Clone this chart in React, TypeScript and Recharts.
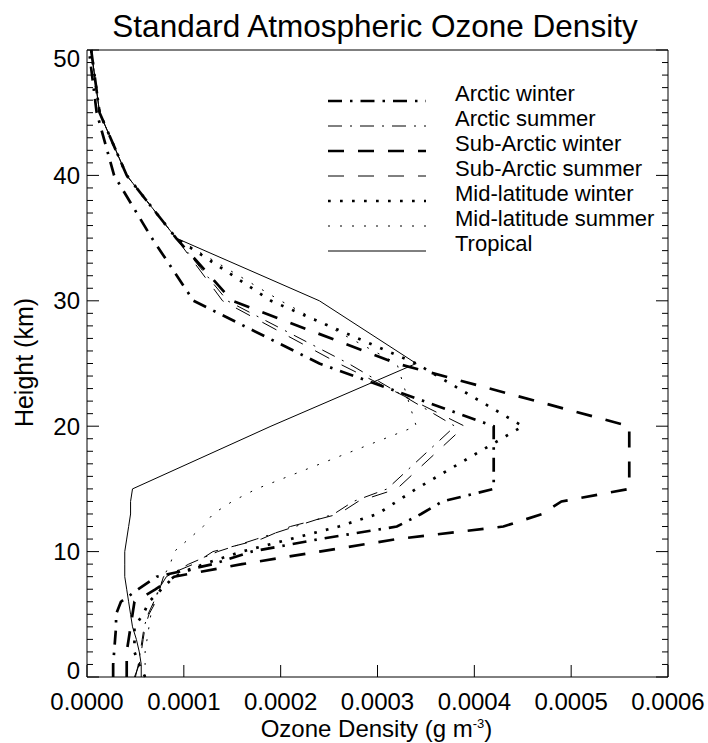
import { LineChart, Line, XAxis, YAxis, Legend } from "recharts"

// heights (km) where the profiles are given
const HEIGHTS = [0, 1, 2, 3, 4, 5, 6, 7, 8, 9, 10, 11, 12, 13, 14, 15, 20, 25, 30, 35, 40, 45, 50]

// ozone density, g m^-3, one value per height above
const ARCTIC_WINTER = [2.7e-5, 2.7e-5, 2.8e-5, 2.9e-5, 3.0e-5, 3.0e-5, 3.5e-5, 5.3e-5, 7.2e-5, 1.3e-4, 1.7e-4, 2.4e-4, 3.2e-4, 3.45e-4, 3.67e-4, 4.2e-4, 4.2e-4, 2.4e-4, 1.1e-4, 6.7e-5, 2.8e-5, 1.0e-5, 2.0e-6]
const ARCTIC_SUMMER = [5.0e-5, 5.3e-5, 5.5e-5, 5.7e-5, 5.9e-5, 6.3e-5, 6.9e-5, 7.4e-5, 8.2e-5, 1.05e-4, 1.35e-4, 1.75e-4, 2.15e-4, 2.55e-4, 2.75e-4, 3.1e-4, 3.8e-4, 2.7e-4, 1.45e-4, 9.2e-5, 4.1e-5, 1.3e-5, 4.3e-6]
const SUBARCTIC_WINTER = [4.1e-5, 4.1e-5, 4.1e-5, 4.3e-5, 4.5e-5, 4.7e-5, 4.9e-5, 7.1e-5, 9.0e-5, 1.6e-4, 2.4e-4, 3.2e-4, 4.3e-4, 4.7e-4, 4.9e-4, 5.6e-4, 5.6e-4, 3.2e-4, 1.5e-4, 9.2e-5, 4.1e-5, 1.3e-5, 4.3e-6]
const SUBARCTIC_SUMMER = [4.9e-5, 5.4e-5, 5.6e-5, 5.8e-5, 6.0e-5, 6.4e-5, 7.1e-5, 7.5e-5, 7.9e-5, 1.1e-4, 1.3e-4, 1.8e-4, 2.1e-4, 2.6e-4, 2.8e-4, 3.2e-4, 3.9e-4, 2.6e-4, 1.4e-4, 9.2e-5, 4.1e-5, 1.3e-5, 4.3e-6]
const MIDLAT_WINTER = [6.0e-5, 5.4e-5, 4.9e-5, 4.9e-5, 4.9e-5, 5.8e-5, 6.4e-5, 7.7e-5, 9.0e-5, 1.2e-4, 1.6e-4, 2.1e-4, 2.6e-4, 3.0e-4, 3.2e-4, 3.4e-4, 4.5e-4, 3.4e-4, 1.9e-4, 9.2e-5, 4.1e-5, 1.3e-5, 4.3e-6]
const MIDLAT_SUMMER = [6.0e-5, 6.0e-5, 6.0e-5, 6.2e-5, 6.4e-5, 6.6e-5, 6.9e-5, 7.5e-5, 7.9e-5, 8.6e-5, 9.0e-5, 1.05e-4, 1.2e-4, 1.3e-4, 1.5e-4, 1.75e-4, 3.4e-4, 3.2e-4, 2.0e-4, 9.2e-5, 4.1e-5, 1.3e-5, 4.3e-6]
const TROPICAL = [5.6e-5, 5.6e-5, 5.4e-5, 5.1e-5, 4.7e-5, 4.5e-5, 4.3e-5, 4.1e-5, 3.9e-5, 3.9e-5, 3.9e-5, 4.1e-5, 4.3e-5, 4.5e-5, 4.5e-5, 4.7e-5, 1.9e-4, 3.4e-4, 2.4e-4, 9.2e-5, 4.1e-5, 1.3e-5, 4.3e-6]

const X_TICKS = [0, 0.0001, 0.0002, 0.0003, 0.0004, 0.0005, 0.0006]
// a tick every km, labels only on the tens
const Y_TICKS = Array.from({ length: 51 }, (_, i) => i)

const FONT = '"Liberation Sans", Arial, Helvetica, sans-serif'

const SERIES = [
  { key: "aw", name: "Arctic winter", values: ARCTIC_WINTER, width: 2.7, dash: "14 8 2.5 8" },
  { key: "as", name: "Arctic summer", values: ARCTIC_SUMMER, width: 1, dash: "14 8 2 8" },
  { key: "saw", name: "Sub-Arctic winter", values: SUBARCTIC_WINTER, width: 2.7, dash: "16 14" },
  { key: "sas", name: "Sub-Arctic summer", values: SUBARCTIC_SUMMER, width: 1, dash: "16 14" },
  { key: "mlw", name: "Mid-latitude winter", values: MIDLAT_WINTER, width: 2.7, dash: "2.7 9.3" },
  { key: "mls", name: "Mid-latitude summer", values: MIDLAT_SUMMER, width: 1, dash: "2 10" },
  { key: "tr", name: "Tropical", values: TROPICAL, width: 1, dash: undefined },
]

const rows = HEIGHTS.map((h, i) => {
  const row: Record<string, number> = { h }
  SERIES.forEach((s) => {
    row[s.key] = s.values[i]
  })
  return row
})

function LeftTick({ x, y, payload }: any) {
  const v = payload.value
  const major = v % 10 === 0
  // end labels are pulled inside the frame, like the original
  const nudge = v === 50 ? 8 : v === 0 ? -7 : 0
  return (
    <g>
      <line x1={x} x2={x + (major ? 12 : 6)} y1={y} y2={y} stroke="#000" />
      {major && (
        <text x={x - 7} y={y + nudge + 8.5} textAnchor="end" fontSize={24} fontFamily={FONT} fill="#000">
          {v}
        </text>
      )}
    </g>
  )
}

function RightTick({ x, y, payload }: any) {
  const major = payload.value % 10 === 0
  return <line x1={x} x2={x - (major ? 12 : 6)} y1={y} y2={y} stroke="#000" />
}

function BottomTick({ x, y, payload }: any) {
  return (
    <g>
      <line x1={x} x2={x} y1={y} y2={y - 12} stroke="#000" />
      <text x={x} y={y + 33} textAnchor="middle" fontSize={24} fontFamily={FONT} fill="#000">
        {Number(payload.value).toFixed(4)}
      </text>
    </g>
  )
}

function TopTick({ x, y }: any) {
  return <line x1={x} x2={x} y1={y} y2={y + 12} stroke="#000" />
}

function LegendBox() {
  return (
    <svg width={380} height={180}>
      {SERIES.map((s, i) => {
        const y = 21 + i * 25
        return (
          <g key={s.key}>
            <line x1={8} x2={106} y1={y} y2={y} stroke="#000" strokeWidth={s.width} strokeDasharray={s.dash} />
            <text x={135} y={y} fontSize={22} fontFamily={FONT} fill="#000">
              {s.name}
            </text>
          </g>
        )
      })}
    </svg>
  )
}

export default function App() {
  return (
    <div style={{ position: "absolute", left: 0, top: 0, width: 708, height: 743, background: "#fff" }}>
      <LineChart
        width={708}
        height={743}
        data={rows}
        layout="vertical"
        margin={{ top: 40, right: 30, bottom: 26, left: 27 }}
      >
        <XAxis
          xAxisId="bottom"
          type="number"
          domain={[0, 0.0006]}
          ticks={X_TICKS}
          interval={0}
          height={40}
          tickSize={0}
          tickMargin={0}
          tickLine={false}
          axisLine={{ stroke: "#000" }}
          tick={(p: any) => <BottomTick {...p} />}
        />
        <XAxis
          xAxisId="top"
          orientation="top"
          type="number"
          domain={[0, 0.0006]}
          ticks={X_TICKS}
          interval={0}
          height={10}
          tickSize={0}
          tickMargin={0}
          tickLine={false}
          axisLine={{ stroke: "#000" }}
          tick={(p: any) => <TopTick {...p} />}
        />
        <YAxis
          yAxisId="left"
          dataKey="h"
          type="number"
          domain={[0, 50]}
          reversed
          ticks={Y_TICKS}
          interval={0}
          width={60}
          tickSize={0}
          tickMargin={0}
          tickLine={false}
          axisLine={{ stroke: "#000" }}
          tick={(p: any) => <LeftTick {...p} />}
        />
        <YAxis
          yAxisId="right"
          orientation="right"
          dataKey="h"
          type="number"
          domain={[0, 50]}
          reversed
          ticks={Y_TICKS}
          interval={0}
          width={10}
          tickSize={0}
          tickMargin={0}
          tickLine={false}
          axisLine={{ stroke: "#000" }}
          tick={(p: any) => <RightTick {...p} />}
        />
        {SERIES.map((s) => (
          <Line
            key={s.key}
            xAxisId="bottom"
            yAxisId="left"
            type="linear"
            dataKey={s.key}
            name={s.name}
            stroke="#000"
            strokeWidth={s.width}
            strokeDasharray={s.dash}
            dot={false}
            activeDot={false}
            isAnimationActive={false}
          />
        ))}
        <Legend
          layout="vertical"
          align="center"
          verticalAlign="middle"
          wrapperStyle={{ left: 320, top: 80, width: 380, height: 180 }}
          content={() => <LegendBox />}
        />
      </LineChart>
      <svg
        width={708}
        height={743}
        style={{ position: "absolute", left: 0, top: 0, pointerEvents: "none" }}
        fontFamily={FONT}
      >
        <text x={375} y={37} textAnchor="middle" fontSize={31.5} fill="#000">
          Standard Atmospheric Ozone Density
        </text>
        <text x={33} y={362.5} textAnchor="middle" fontSize={25} fill="#000" transform="rotate(-90 33 362.5)">
          Height (km)
        </text>
        <text x={376.5} y={737} textAnchor="middle" fontSize={24} fill="#000">
          Ozone Density (g m
          <tspan dy={-9} fontSize={13}>
            -3
          </tspan>
          <tspan dy={9}>)</tspan>
        </text>
      </svg>
    </div>
  )
}
